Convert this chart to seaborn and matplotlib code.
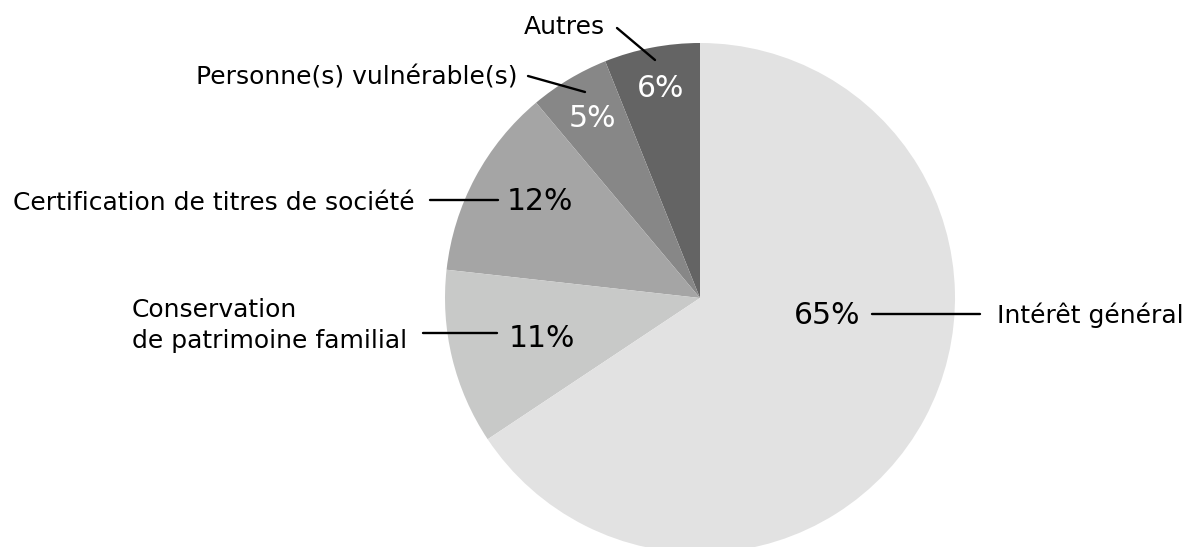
import seaborn as sns
import matplotlib.pyplot as plt

sns.set_theme(style="white")
plt.rcParams['font.family'] = ['DejaVu Sans']

# data (start at top, counter-clockwise)
labels = ["Autres", "Personne(s) vulnérable(s)", "Certification de titres de société",
          "Conservation\nde patrimoine familial", "Intérêt général"]
values = [6, 5, 12, 11, 65]
pct_text = ["6%", "5%", "12%", "11%", "65%"]
colors = ["#646464", "#878787", "#a5a5a5", "#c8c9c8", "#e2e2e2"]
pct_colors = ["white", "white", "black", "black", "black"]

W, H = 1192, 547
fig = plt.figure(figsize=(W / 100, H / 100), dpi=100)

# pie centre at (700, 298) px, radius 255 px
cx, cy, r = 700, 298, 255
ax = fig.add_axes([(cx - r) / W, (H - cy - r) / H, 2 * r / W, 2 * r / H])
ax.pie(values, colors=colors, startangle=90, counterclock=True,
       wedgeprops=dict(linewidth=0))
ax.set_xlim(-1, 1)
ax.set_ylim(-1, 1)
ax.axis("off")


def P(x, y):
    return (x / W, 1 - y / H)


# name labels: (x, baseline y of last line, ha)
name_pos = [(605, 34, "right"), (517, 85, "right"), (415, 210, "right"),
            (132, 348, "left"), (997, 323, "left")]
# percentage labels: (centre x, baseline y)
pct_pos = [(661, 97), (592, 127), (540, 210), (542, 347), (827, 324)]
# connector lines
lines = [((617, 28), (655, 60)), ((528, 76), (585, 92)), ((430, 200), (498, 200)),
         ((423, 333), (497, 333)), ((872, 314), (980, 314))]

for lab, (x, y, ha) in zip(labels, name_pos):
    fig.text(*P(x, y), lab, ha=ha, va="baseline", fontsize=18, color="black",
             linespacing=1.36)

for t, c, (x, y) in zip(pct_text, pct_colors, pct_pos):
    fig.text(*P(x, y), t, ha="center", va="baseline", fontsize=21.5, color=c)

for (x0, y0), (x1, y1) in lines:
    fig.add_artist(plt.Line2D([x0 / W, x1 / W], [1 - y0 / H, 1 - y1 / H],
                              transform=fig.transFigure, color="black", lw=1.7))

fig.savefig("out.png", dpi=100, facecolor="white")
